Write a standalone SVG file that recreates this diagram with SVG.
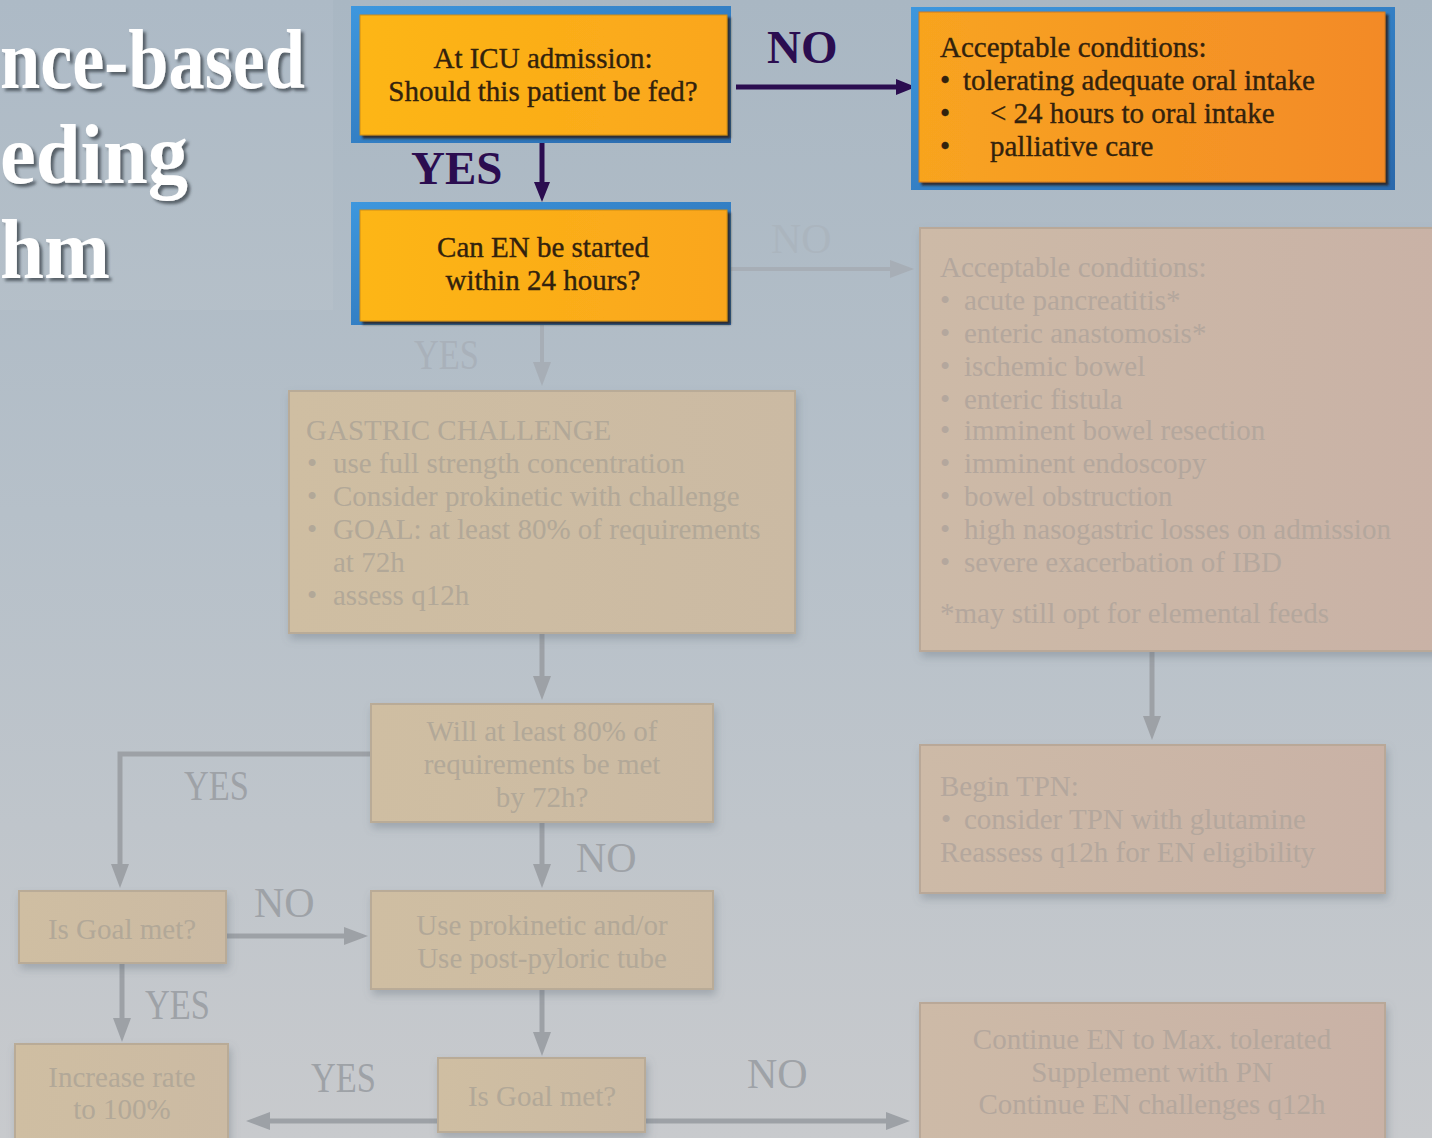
<svg xmlns="http://www.w3.org/2000/svg" width="1432" height="1138" viewBox="0 0 1432 1138">
  <defs>
    <linearGradient id="bg" x1="0" y1="0" x2="0" y2="1">
      <stop offset="0" stop-color="#a9b7c3"/>
      <stop offset="0.45" stop-color="#b6c0c9"/>
      <stop offset="1" stop-color="#c8cacd"/>
    </linearGradient>
    <linearGradient id="gold" x1="0" y1="0" x2="1" y2="0">
      <stop offset="0" stop-color="#fdb614"/>
      <stop offset="1" stop-color="#faa61d"/>
    </linearGradient>
    <linearGradient id="orange" x1="0" y1="0" x2="1" y2="0">
      <stop offset="0" stop-color="#f8a41f"/>
      <stop offset="1" stop-color="#f38a28"/>
    </linearGradient>
    <linearGradient id="frame" x1="0" y1="0" x2="1" y2="1">
      <stop offset="0" stop-color="#3d97de"/>
      <stop offset="1" stop-color="#2a68ab"/>
    </linearGradient>
    <linearGradient id="tan" x1="0" y1="0" x2="1" y2="0">
      <stop offset="0" stop-color="#cfbea2"/>
      <stop offset="1" stop-color="#cbbaa3"/>
    </linearGradient>
    <linearGradient id="rose" x1="0" y1="0" x2="1" y2="0">
      <stop offset="0" stop-color="#cdbaa7"/>
      <stop offset="1" stop-color="#c9b2a6"/>
    </linearGradient>
    <filter id="hardShadow" x="-5%" y="-5%" width="115%" height="120%">
      <feDropShadow dx="3" dy="3" stdDeviation="1.2" flood-color="#2b2014" flood-opacity="0.85"/>
    </filter>
    <filter id="softShadow" x="-5%" y="-5%" width="115%" height="125%">
      <feDropShadow dx="2" dy="5" stdDeviation="4" flood-color="#5f6a77" flood-opacity="0.35"/>
    </filter>
    <filter id="titleShadow" x="-5%" y="-5%" width="115%" height="125%">
      <feDropShadow dx="3" dy="3" stdDeviation="1.5" flood-color="#3c4650" flood-opacity="0.8"/>
    </filter>
    <marker id="ahDark" markerUnits="userSpaceOnUse" markerWidth="22" markerHeight="22" viewBox="0 0 22 22" refX="2" refY="11" orient="auto">
      <path d="M0,3 L20,11 L0,19 Z" fill="#2b0d50"/>
    </marker>
    <marker id="ahGrey" markerUnits="userSpaceOnUse" markerWidth="26" markerHeight="26" viewBox="0 0 26 26" refX="2" refY="13" orient="auto">
      <path d="M0,4 L24,13 L0,22 Z" fill="#9da1a6"/>
    </marker>
    <marker id="ahPale" markerUnits="userSpaceOnUse" markerWidth="26" markerHeight="26" viewBox="0 0 26 26" refX="2" refY="13" orient="auto">
      <path d="M0,4 L24,13 L0,22 Z" fill="#a7aeb6"/>
    </marker>
  </defs>

  <style>
    .lead { font-family: "Liberation Serif", "Times New Roman", serif; font-size: 29px; fill: #32220d; stroke: #32220d; stroke-width: 0.35px; }
    .dim { font-family: "Liberation Serif", "Times New Roman", serif; font-size: 29px; fill: #b2a898; }
    .dimR { font-family: "Liberation Serif", "Times New Roman", serif; font-size: 29px; fill: #b4a79d; }
    .mid { text-anchor: middle; }
    .title { font-family: "Liberation Serif", "Times New Roman", serif; font-weight: bold; font-size: 84px; fill: #ffffff; }
    .tag { font-family: "Liberation Serif", "Times New Roman", serif; font-weight: bold; font-size: 47px; fill: #2b0d50; }
    .ghost { font-family: "Liberation Serif", "Times New Roman", serif; font-size: 42px; fill: #9ea2a7; }
    .ghostPale { font-family: "Liberation Serif", "Times New Roman", serif; font-size: 42px; fill: #a9b1ba; }
    .wire { fill: none; stroke: #9da1a6; stroke-width: 5; }
    .wirePale { fill: none; stroke: #a7aeb6; stroke-width: 4; }
    .wireDark { fill: none; stroke: #2b0d50; stroke-width: 5; }
    .card { fill: url(#tan); stroke: #b9ab97; stroke-width: 2; filter: url(#softShadow); }
    .cardRose { fill: url(#rose); stroke: #b9a898; stroke-width: 2; filter: url(#softShadow); }
  </style>

  <!-- slide background -->
  <rect x="0" y="0" width="1432" height="1138" fill="url(#bg)"/>

  <!-- title panel -->
  <g id="title">
    <rect x="0" y="0" width="333" height="310" fill="#ffffff" fill-opacity="0.05"/>
    <g filter="url(#titleShadow)">
      <text class="title" x="0" y="88" textLength="305" lengthAdjust="spacingAndGlyphs">nce-based</text>
      <text class="title" x="0" y="183" textLength="188" lengthAdjust="spacingAndGlyphs">eding</text>
      <text class="title" x="0" y="278" textLength="110" lengthAdjust="spacingAndGlyphs">hm</text>
    </g>
  </g>

  <!-- connectors -->
  <g id="connectors">
    <!-- active path -->
    <path class="wireDark" d="M736,87 H898" marker-end="url(#ahDark)"/>
    <path class="wireDark" d="M542,137 V184" marker-end="url(#ahDark)"/>
    <text class="tag" x="767" y="63">NO</text>
    <text class="tag" x="411" y="184">YES</text>

    <!-- later steps -->
    <path class="wirePale" d="M731,269 H892" marker-end="url(#ahPale)"/>
    <text class="ghostPale" x="771" y="253" fill-opacity="0.6">NO</text>
    <path class="wirePale" d="M542,325 V364" marker-end="url(#ahPale)"/>
    <text class="ghostPale" x="414" y="369" textLength="65" lengthAdjust="spacingAndGlyphs">YES</text>

    <path class="wire" d="M542,634 V678" marker-end="url(#ahGrey)"/>
    <path class="wire" d="M371,754 H120 V866" marker-end="url(#ahGrey)"/>
    <text class="ghost" x="184" y="800" textLength="65" lengthAdjust="spacingAndGlyphs">YES</text>
    <path class="wire" d="M542,823 V866" marker-end="url(#ahGrey)"/>
    <text class="ghost" x="576" y="872">NO</text>
    <path class="wire" d="M226,936 H346" marker-end="url(#ahGrey)"/>
    <text class="ghost" x="254" y="917">NO</text>
    <path class="wire" d="M122,964 V1020" marker-end="url(#ahGrey)"/>
    <text class="ghost" x="145" y="1019" textLength="65" lengthAdjust="spacingAndGlyphs">YES</text>
    <path class="wire" d="M542,990 V1034" marker-end="url(#ahGrey)"/>
    <path class="wire" d="M438,1121 H268" marker-end="url(#ahGrey)"/>
    <text class="ghost" x="311" y="1092" textLength="65" lengthAdjust="spacingAndGlyphs">YES</text>
    <path class="wire" d="M645,1121 H888" marker-end="url(#ahGrey)"/>
    <text class="ghost" x="747" y="1088">NO</text>
    <path class="wire" d="M1152,652 V718" marker-end="url(#ahGrey)"/>
  </g>

  <!-- admission question -->
  <g id="node-admission">
    <rect x="351" y="6" width="380" height="137" fill="url(#frame)"/>
    <rect x="360" y="15" width="367" height="120" fill="url(#gold)" stroke="#d08e12" stroke-width="1" filter="url(#hardShadow)"/>
    <text class="lead mid" x="543" y="68">At ICU admission:</text>
    <text class="lead mid" x="543" y="101">Should this patient be fed?</text>
  </g>

  <!-- oral intake / no feeding -->
  <g id="node-oral">
    <rect x="911" y="7" width="484" height="183" fill="url(#frame)"/>
    <rect x="919" y="12" width="466" height="170" fill="url(#orange)" stroke="#cf7a1e" stroke-width="1" filter="url(#hardShadow)"/>
    <text class="lead" x="940" y="57">Acceptable conditions:</text>
    <text class="lead" x="940" y="90">•</text>
    <text class="lead" x="963" y="90">tolerating adequate oral intake</text>
    <text class="lead" x="940" y="123">•</text>
    <text class="lead" x="990" y="123">&lt; 24 hours to oral intake</text>
    <text class="lead" x="940" y="156">•</text>
    <text class="lead" x="990" y="156">palliative care</text>
  </g>

  <!-- EN within 24 h -->
  <g id="node-en24">
    <rect x="351" y="202" width="380" height="123" fill="url(#frame)"/>
    <rect x="360" y="210" width="367" height="111" fill="url(#gold)" stroke="#d08e12" stroke-width="1" filter="url(#hardShadow)"/>
    <text class="lead mid" x="543" y="257">Can EN be started</text>
    <text class="lead mid" x="543" y="290">within 24 hours?</text>
  </g>

  <!-- contraindications -->
  <g id="node-contra">
    <rect class="cardRose" x="920" y="228" width="520" height="423"/>
    <text class="dimR" x="940" y="277">Acceptable conditions:</text>
    <g class="dimR">
      <text x="940" y="310">•</text><text x="964" y="310">acute pancreatitis*</text>
      <text x="940" y="343">•</text><text x="964" y="343">enteric anastomosis*</text>
      <text x="940" y="376">•</text><text x="964" y="376">ischemic bowel</text>
      <text x="940" y="409">•</text><text x="964" y="409">enteric fistula</text>
      <text x="940" y="440">•</text><text x="964" y="440">imminent bowel resection</text>
      <text x="940" y="473">•</text><text x="964" y="473">imminent endoscopy</text>
      <text x="940" y="506">•</text><text x="964" y="506">bowel obstruction</text>
      <text x="940" y="539">•</text><text x="964" y="539">high nasogastric losses on admission</text>
      <text x="940" y="572">•</text><text x="964" y="572">severe exacerbation of IBD</text>
      <text x="940" y="623">*may still opt for elemental feeds</text>
    </g>
  </g>

  <!-- gastric challenge -->
  <g id="node-gastric">
    <rect class="card" x="289" y="391" width="506" height="242"/>
    <g class="dim">
      <text x="306" y="440">GASTRIC CHALLENGE</text>
      <text x="307" y="473">•</text><text x="333" y="473">use full strength concentration</text>
      <text x="307" y="506">•</text><text x="333" y="506">Consider prokinetic with challenge</text>
      <text x="307" y="539">•</text><text x="333" y="539">GOAL: at least 80% of requirements</text>
      <text x="333" y="572">at 72h</text>
      <text x="307" y="605">•</text><text x="333" y="605">assess q12h</text>
    </g>
  </g>

  <!-- 80% by 72h -->
  <g id="node-target">
    <rect class="card" x="371" y="704" width="342" height="118"/>
    <g class="dim mid">
      <text x="542" y="741">Will at least 80% of</text>
      <text x="542" y="774">requirements be met</text>
      <text x="542" y="807">by 72h?</text>
    </g>
  </g>

  <!-- begin TPN -->
  <g id="node-tpn">
    <rect class="cardRose" x="920" y="745" width="465" height="148"/>
    <g class="dimR">
      <text x="940" y="796">Begin TPN:</text>
      <text x="941" y="829">•</text><text x="964" y="829">consider TPN with glutamine</text>
      <text x="940" y="862">Reassess q12h for EN eligibility</text>
    </g>
  </g>

  <!-- goal check (left) -->
  <g id="node-goal-left">
    <rect class="card" x="19" y="891" width="207" height="72"/>
    <text class="dim mid" x="122" y="939">Is Goal met?</text>
  </g>

  <!-- prokinetic / post-pyloric -->
  <g id="node-prokinetic">
    <rect class="card" x="371" y="891" width="342" height="98"/>
    <g class="dim mid">
      <text x="542" y="935">Use prokinetic and/or</text>
      <text x="542" y="968">Use post-pyloric tube</text>
    </g>
  </g>

  <!-- increase rate -->
  <g id="node-increase">
    <rect class="card" x="15" y="1044" width="213" height="110"/>
    <g class="dim mid">
      <text x="122" y="1087">Increase rate</text>
      <text x="122" y="1119">to 100%</text>
    </g>
  </g>

  <!-- goal check (bottom) -->
  <g id="node-goal-bottom">
    <rect class="card" x="438" y="1058" width="207" height="74"/>
    <text class="dim mid" x="542" y="1106">Is Goal met?</text>
  </g>

  <!-- supplement with PN -->
  <g id="node-supplement">
    <rect class="cardRose" x="920" y="1003" width="465" height="150"/>
    <g class="dimR mid">
      <text x="1152" y="1049">Continue EN to Max. tolerated</text>
      <text x="1152" y="1082">Supplement with PN</text>
      <text x="1152" y="1114">Continue EN challenges q12h</text>
    </g>
  </g>
</svg>
